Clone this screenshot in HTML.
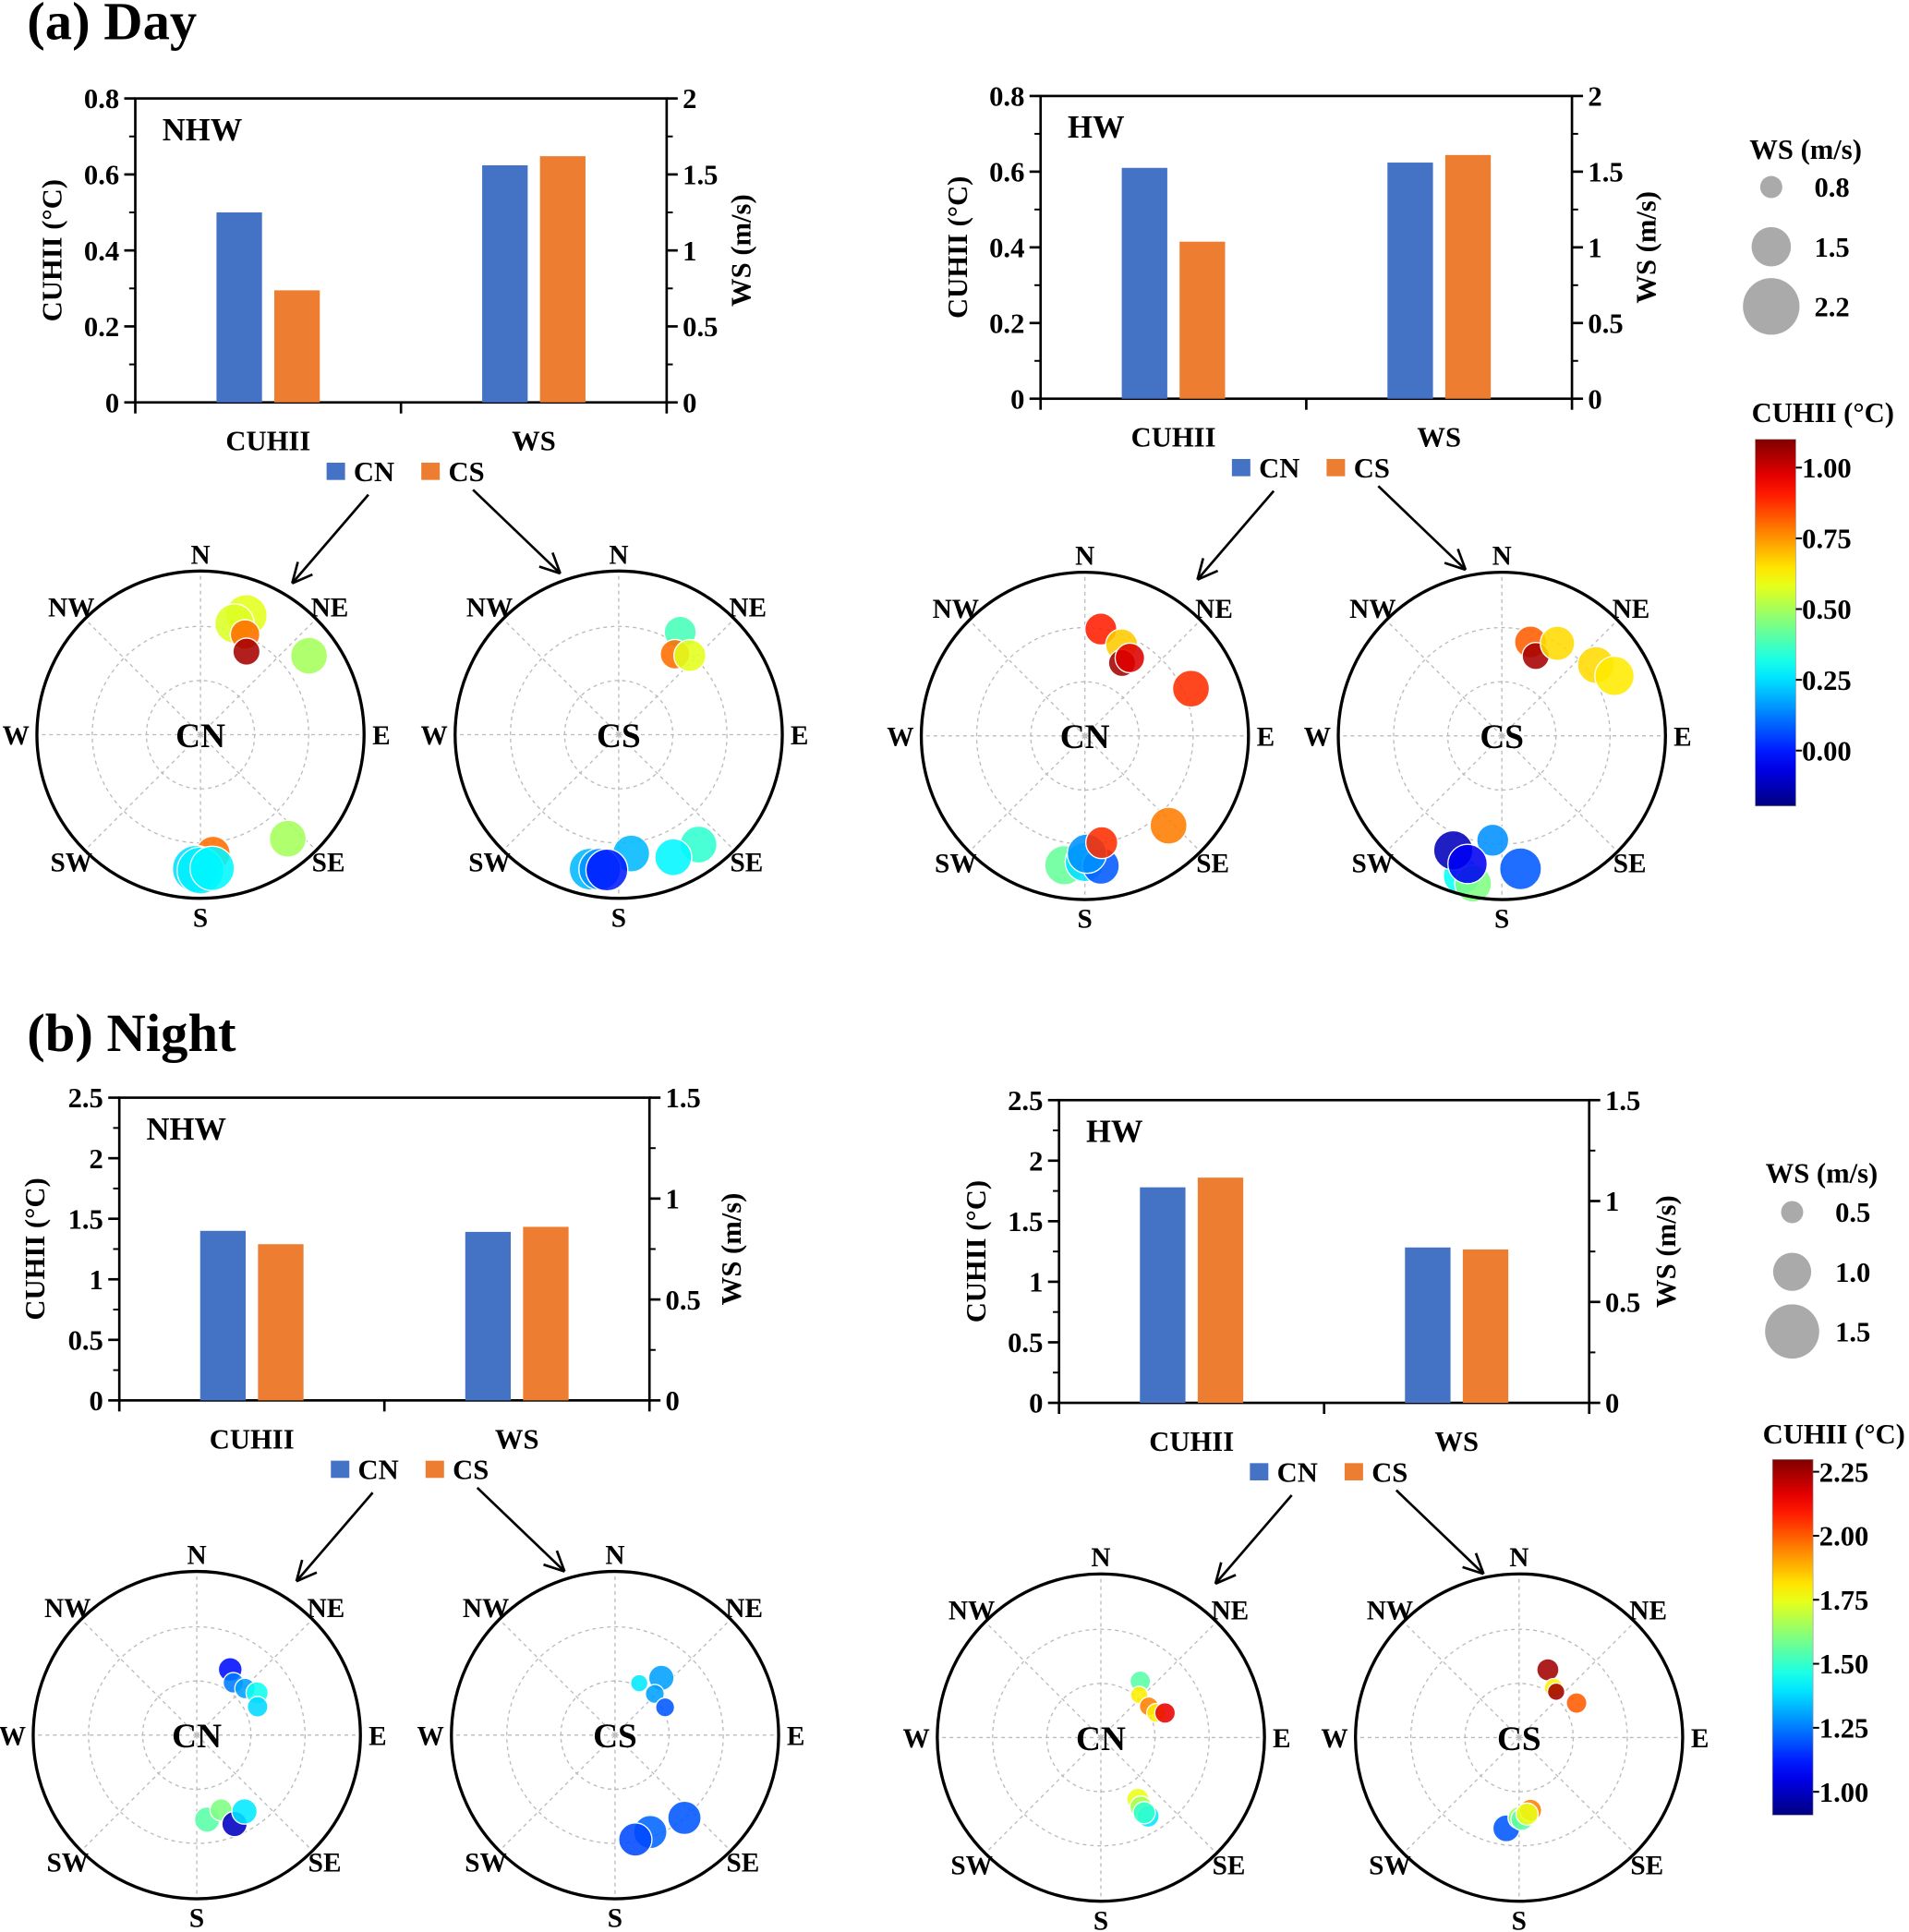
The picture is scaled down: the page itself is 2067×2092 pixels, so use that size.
<!DOCTYPE html>
<html><head><meta charset="utf-8"><style>
html,body{margin:0;padding:0;background:#fff;}
svg{display:block;font-family:"Liberation Serif",serif;font-weight:bold;}
</style></head><body>
<svg id="fig" width="2067" height="2092" viewBox="0 0 1552 1570" preserveAspectRatio="none" xmlns="http://www.w3.org/2000/svg"></svg>
<script>
// ---- bar chart data (CN, CS) ----
const barCategories = ["CUHII", "WS"];
const barSeries = ["CN", "CS"];
const dayNhwCuhii = [0.50, 0.295];
const dayNhwWs = [1.56, 1.62];
const dayHwCuhii = [0.61, 0.415];
const dayHwWs = [1.56, 1.61];
const nightNhwCuhii = [1.40, 1.29];
const nightNhwWs = [0.835, 0.86];
const nightHwCuhii = [1.78, 1.86];
const nightHwWs = [0.77, 0.76];
const dayLeftTicks = ["0", "0.2", "0.4", "0.6", "0.8"];
const dayRightTicks = ["0", "0.5", "1", "1.5", "2"];
const nightLeftTicks = ["0", "0.5", "1", "1.5", "2", "2.5"];
const nightRightTicks = ["0", "0.5", "1", "1.5"];
// ---- polar bubble data: direction (deg), radial fraction, wind speed, CUHII ----
const dNhwCnDir = [21, 17, 24, 29, 54, 140, 174, 182, 180, 175];
const dNhwCnRad = [0.78, 0.71, 0.67, 0.58, 0.82, 0.83, 0.73, 0.82, 0.83, 0.82];
const dNhwCnWs = [1.6, 1.5, 1.1, 1.0, 1.4, 1.4, 1.3, 1.8, 1.8, 1.7];
const dNhwCnT = [0.58, 0.57, 0.8, 1.05, 0.5, 0.5, 0.8, 0.25, 0.27, 0.28];
const dNhwCsDir = [31, 35, 42, 144, 156, 174, 192, 188, 185];
const dNhwCsRad = [0.73, 0.6, 0.65, 0.83, 0.82, 0.73, 0.84, 0.83, 0.83];
const dNhwCsWs = [1.2, 1.1, 1.2, 1.4, 1.4, 1.4, 1.6, 1.6, 1.6];
const dNhwCsT = [0.38, 0.8, 0.58, 0.35, 0.28, 0.2, 0.2, 0.15, 0.0];
const dHwCnDir = [8.5, 22, 27, 30, 66, 137, 189, 180, 173, 179, 171];
const dHwCnRad = [0.66, 0.6, 0.5, 0.55, 0.71, 0.75, 0.8, 0.77, 0.8, 0.72, 0.66];
const dHwCnWs = [1.2, 1.2, 1.0, 1.1, 1.4, 1.4, 1.5, 1.5, 1.4, 1.5, 1.2];
const dHwCnT = [0.9, 0.68, 1.05, 0.98, 0.88, 0.78, 0.42, 0.25, 0.08, 0.15, 0.88];
const dHwCsDir = [17, 23, 31, 53, 62, 185, 196, 191, 203, 195, 172];
const dHwCsRad = [0.6, 0.53, 0.66, 0.72, 0.78, 0.64, 0.89, 0.92, 0.76, 0.81, 0.82];
const dHwCsWs = [1.2, 1.0, 1.3, 1.4, 1.5, 1.2, 1.4, 1.4, 1.5, 1.5, 1.6];
const dHwCsT = [0.82, 1.05, 0.66, 0.66, 0.64, 0.15, 0.3, 0.45, -0.12, -0.05, 0.08];
const nNhwCnDir = [27, 35, 46, 55, 65, 173, 162, 157, 148];
const nNhwCnRad = [0.45, 0.39, 0.41, 0.45, 0.41, 0.52, 0.48, 0.59, 0.55];
const nNhwCnWs = [0.55, 0.45, 0.45, 0.5, 0.45, 0.6, 0.5, 0.6, 0.6];
const nNhwCnT = [1.1, 1.25, 1.3, 1.45, 1.38, 1.55, 1.6, 1.0, 1.4];
const nNhwCsDir = [25, 39, 44, 61, 140, 160, 169];
const nNhwCsRad = [0.35, 0.45, 0.35, 0.35, 0.66, 0.63, 0.65];
const nNhwCsWs = [0.35, 0.6, 0.4, 0.4, 0.85, 0.85, 0.85];
const nNhwCsT = [1.4, 1.3, 1.3, 1.2, 1.2, 1.22, 1.18];
const nHwCnDir = [35, 42, 57, 66, 69, 149, 150, 149, 150];
const nHwCnRad = [0.42, 0.35, 0.35, 0.37, 0.42, 0.44, 0.49, 0.56, 0.53];
const nHwCnWs = [0.45, 0.35, 0.4, 0.4, 0.45, 0.5, 0.5, 0.5, 0.5];
const nHwCnT = [1.55, 1.8, 1.95, 1.8, 2.15, 1.75, 1.65, 1.4, 1.5];
const nHwCsDir = [23, 35, 39, 59, 188, 180, 178, 171, 174];
const nHwCsRad = [0.45, 0.37, 0.36, 0.41, 0.56, 0.49, 0.5, 0.45, 0.47];
const nHwCsWs = [0.5, 0.4, 0.35, 0.45, 0.65, 0.5, 0.5, 0.5, 0.5];
const nHwCsT = [2.25, 1.8, 2.25, 2.0, 1.2, 1.65, 1.55, 1.95, 1.75];
const daySizeLegend = [0.8, 1.5, 2.2];
const nightSizeLegend = [0.5, 1.0, 1.5];
const dayCbTicks = [1.00, 0.75, 0.50, 0.25, 0.00];
const nightCbTicks = [2.25, 2.00, 1.75, 1.50, 1.25, 1.00];

const NS = "http://www.w3.org/2000/svg";
const svg = document.getElementById('fig');
function el(tag, attrs, parent, txt) {
  const e = document.createElementNS(NS, tag);
  for (const k in attrs) e.setAttribute(k, attrs[k]);
  if (txt !== undefined) e.textContent = txt;
  (parent || svg).appendChild(e);
  return e;
}
function jet(t) {
  const c = v => Math.max(0, Math.min(1, v));
  const r = c(1.5 - Math.abs(4 * t - 3)), g = c(1.5 - Math.abs(4 * t - 2)), b = c(1.5 - Math.abs(4 * t - 1));
  return `rgb(${Math.round(r * 255)},${Math.round(g * 255)},${Math.round(b * 255)})`;
}

function title(x, y, s, name) {
  const t = el('text', {x: x, y: y, 'font-size': 44}, svg, s);
  
  
}
title(22, 32, "(a) Day", "day-panel-title");
title(22, 854, "(b) Night", "night-panel-title");

function barChart(cfg) {
  const g = el('g', {});
  
  
  const {x0, y0, x1, y1} = cfg;
  const w = x1 - x0, h = y1 - y0;
  const yL = v => y1 - v / cfg.lMax * h;
  const yR = v => y1 - v / cfg.rMax * h;
  const frame = el('rect', {x: x0, y: y0, width: w, height: h, fill: 'none', stroke: '#000', 'stroke-width': 2}, g);
  
  
  cfg.lTicks.forEach((lab, i) => {
    const v = i * cfg.lStep, y = yL(v);
    el('line', {x1: x0 - 9, x2: x0, y1: y, y2: y, stroke: '#000', 'stroke-width': 2}, g);
    if (i < cfg.lTicks.length - 1) { const ym = yL(v + cfg.lStep / 2); el('line', {x1: x0 - 5, x2: x0, y1: ym, y2: ym, stroke: '#000', 'stroke-width': 1.5}, g); }
    const t = el('text', {x: x0 - 13, y: y + 8, 'font-size': 23, 'text-anchor': 'end'}, g, lab);
    
    
  });
  cfg.rTicks.forEach((lab, i) => {
    const v = i * cfg.rStep, y = yR(v);
    el('line', {x1: x1, x2: x1 + 9, y1: y, y2: y, stroke: '#000', 'stroke-width': 2}, g);
    if (i < cfg.rTicks.length - 1) { const ym = yR(v + cfg.rStep / 2); el('line', {x1: x1, x2: x1 + 5, y1: ym, y2: ym, stroke: '#000', 'stroke-width': 1.5}, g); }
    const t = el('text', {x: x1 + 13, y: y + 8, 'font-size': 23, 'text-anchor': 'start'}, g, lab);
    
    
  });
  [x0, x0 + w / 2, x1].forEach(x => el('line', {x1: x, x2: x, y1: y1, y2: y1 + 9, stroke: '#000', 'stroke-width': 2}, g));
  const colors = ['#4472C4', '#ED7D31'];
  const centers = [x0 + w * 0.25, x0 + w * 0.75];
  barCategories.forEach((cat, ci) => {
    const vals = ci === 0 ? cfg.cuhii : cfg.ws;
    const ys = ci === 0 ? yL : yR;
    vals.forEach((v, si) => {
      const bx = centers[ci] + (si === 0 ? -42 : 5);
      const r = el('rect', {x: bx, y: ys(v), width: 37, height: y1 - ys(v), fill: colors[si]}, g);
      
      
    });
    const t = el('text', {x: centers[ci], y: y1 + 39, 'font-size': 23, 'text-anchor': 'middle'}, g, cat);
    
    
  });
  const pl = el('text', {x: x0 + 22, y: y0 + 34, 'font-size': 26}, g, cfg.label);
  
  
  const ly = y0 + h / 2;
  const la = el('text', {x: 0, y: 0, 'font-size': 23, 'text-anchor': 'middle', transform: `translate(${cfg.lLabX},${ly}) rotate(-90)`}, g, "CUHII (°C)");
  
  
  const ra = el('text', {x: 0, y: 0, 'font-size': 23, 'text-anchor': 'middle', transform: `translate(${cfg.rLabX},${ly}) rotate(-90)`}, g, "WS (m/s)");
  
  
  const lg = el('g', {}, g);
  
  
  const lx = cfg.lx !== undefined ? cfg.lx : x0 + w * 0.36, lyy = y1 + 49;
  barSeries.forEach((s, i) => {
    const xx = lx + i * 77;
    el('rect', {x: xx, y: lyy, width: 15, height: 14, fill: colors[i]}, lg);
    const t = el('text', {x: xx + 22, y: lyy + 15, 'font-size': 23}, lg, s);
    
    
  });
  const arr = (ax, ay, bx, by) => {
    el('line', {x1: ax, y1: ay, x2: bx, y2: by, stroke: '#000', 'stroke-width': 2}, g);
    const a = Math.atan2(by - ay, bx - ax), L = 18;
    [0.45, -0.45].forEach(d => el('line', {x1: bx, y1: by, x2: bx - L * Math.cos(a + d), y2: by - L * Math.sin(a + d), stroke: '#000', 'stroke-width': 2}, g));
  };
  arr(lx + 34, lyy + 26, lx - 28, lyy + 98);
  arr(lx + 119, lyy + 22, lx + 190, lyy + 90);
}

barChart({name: 'bar-chart-day-nhw', x0: 110, y0: 80, x1: 542, y1: 327, lMax: 0.8, lStep: 0.2, rMax: 2, rStep: 0.5, lTicks: dayLeftTicks, rTicks: dayRightTicks, cuhii: dayNhwCuhii, ws: dayNhwWs, label: 'NHW', lLabX: 50, rLabX: 610});
barChart({name: 'bar-chart-day-hw', x0: 846, y0: 78, x1: 1278, y1: 324, lMax: 0.8, lStep: 0.2, rMax: 2, rStep: 0.5, lTicks: dayLeftTicks, rTicks: dayRightTicks, cuhii: dayHwCuhii, ws: dayHwWs, label: 'HW', lLabX: 786, rLabX: 1346});
barChart({name: 'bar-chart-night-nhw', x0: 97, y0: 892, x1: 528, y1: 1138, lMax: 2.5, lStep: 0.5, rMax: 1.5, rStep: 0.5, lTicks: nightLeftTicks, rTicks: nightRightTicks, cuhii: nightNhwCuhii, ws: nightNhwWs, label: 'NHW', lLabX: 36, rLabX: 602, lx: 269});
barChart({name: 'bar-chart-night-hw', x0: 861, y0: 894, x1: 1292, y1: 1140, lMax: 2.5, lStep: 0.5, rMax: 1.5, rStep: 0.5, lTicks: nightLeftTicks, rTicks: nightRightTicks, cuhii: nightHwCuhii, ws: nightHwWs, label: 'HW', lLabX: 801, rLabX: 1362});

const daySize = ws => 9 + 10 * (ws - 0.8);
const nightSize = ws => 9 + 13 * (ws - 0.5);
const dayNorm = v => (v - (-0.196)) / (1.10 - (-0.196));
const nightNorm = v => (v - 0.909) / (2.298 - 0.909);

function polar(cfg) {
  const g = el('g', {});
  
  
  const cx = cfg.cx, cy = cfg.cy, R = 133;
  [44, 88].forEach(r => el('circle', {cx, cy, r, fill: 'none', stroke: '#bbb', 'stroke-width': 1, 'stroke-dasharray': '3,3'}, g));
  for (let k = 0; k < 8; k++) {
    const a = k * Math.PI / 4;
    el('line', {x1: cx, y1: cy, x2: cx + R * Math.sin(a), y2: cy - R * Math.cos(a), stroke: '#bbb', 'stroke-width': 1, 'stroke-dasharray': '3,3'}, g);
  }
  cfg.dir.forEach((d, i) => {
    const a = d * Math.PI / 180, r = cfg.rad[i] * R;
    const c = el('circle', {cx: cx + r * Math.sin(a), cy: cy - r * Math.cos(a), r: cfg.size(cfg.ws[i]), fill: jet(cfg.norm(cfg.t[i])), 'fill-opacity': 0.88, stroke: '#fff', 'stroke-width': 1}, g);
    
    
  });
  const ring = el('circle', {cx, cy, r: R, fill: 'none', stroke: '#000', 'stroke-width': 2.5}, g);
  
  
  const labs = [['N', 0, -147], ['S', 0, 148], ['W', -150, 0], ['E', 147, 0], ['NW', -105, -104], ['NE', 105, -104], ['SW', -105, 103], ['SE', 104, 103]];
  labs.forEach(([s, dx, dy]) => {
    const t = el('text', {x: cx + dx, y: cy + dy + 8, 'font-size': 22, 'text-anchor': 'middle'}, g, s);
    
    
  });
  const ct = el('text', {x: cx, y: cy + 10, 'font-size': 28, 'text-anchor': 'middle'}, g, cfg.center);
  
  
}
polar({name: 'polar-day-nhw-cn', cx: 163, cy: 597, center: 'CN', dir: dNhwCnDir, rad: dNhwCnRad, ws: dNhwCnWs, t: dNhwCnT, size: daySize, norm: dayNorm});
polar({name: 'polar-day-nhw-cs', cx: 503, cy: 597, center: 'CS', dir: dNhwCsDir, rad: dNhwCsRad, ws: dNhwCsWs, t: dNhwCsT, size: daySize, norm: dayNorm});
polar({name: 'polar-day-hw-cn', cx: 882, cy: 598, center: 'CN', dir: dHwCnDir, rad: dHwCnRad, ws: dHwCnWs, t: dHwCnT, size: daySize, norm: dayNorm});
polar({name: 'polar-day-hw-cs', cx: 1221, cy: 598, center: 'CS', dir: dHwCsDir, rad: dHwCsRad, ws: dHwCsWs, t: dHwCsT, size: daySize, norm: dayNorm});
polar({name: 'polar-night-nhw-cn', cx: 160, cy: 1410, center: 'CN', dir: nNhwCnDir, rad: nNhwCnRad, ws: nNhwCnWs, t: nNhwCnT, size: nightSize, norm: nightNorm});
polar({name: 'polar-night-nhw-cs', cx: 500, cy: 1410, center: 'CS', dir: nNhwCsDir, rad: nNhwCsRad, ws: nNhwCsWs, t: nNhwCsT, size: nightSize, norm: nightNorm});
polar({name: 'polar-night-hw-cn', cx: 895, cy: 1412, center: 'CN', dir: nHwCnDir, rad: nHwCnRad, ws: nHwCnWs, t: nHwCnT, size: nightSize, norm: nightNorm});
polar({name: 'polar-night-hw-cs', cx: 1235, cy: 1412, center: 'CS', dir: nHwCsDir, rad: nHwCsRad, ws: nHwCsWs, t: nHwCsT, size: nightSize, norm: nightNorm});

function sizeLegend(cfg) {
  const g = el('g', {});
  
  
  const t = el('text', {x: cfg.tx, y: cfg.ty, 'font-size': 23, 'text-anchor': 'middle'}, g, "WS (m/s)");
  
  
  cfg.vals.forEach((v, i) => {
    const y = cfg.y0 + i * 48.5;
    el('circle', {cx: cfg.cx, cy: y, r: cfg.size(v), fill: '#aaa'}, g);
    const l = el('text', {x: cfg.lx, y: y + 8, 'font-size': 23}, g, v.toFixed(1));
    
    
  });
}
sizeLegend({name: 'size-legend-day', tx: 1468, ty: 129, cx: 1440, y0: 152, lx: 1475, vals: daySizeLegend, size: daySize});
sizeLegend({name: 'size-legend-night', tx: 1481, ty: 961, cx: 1457, y0: 985, lx: 1492, vals: nightSizeLegend, size: nightSize});

function colorbar(cfg) {
  const g = el('g', {});
  
  
  const defs = el('defs', {}, g);
  const lg = el('linearGradient', {id: cfg.name + '-grad', x1: 0, y1: 1, x2: 0, y2: 0}, defs);
  for (let i = 0; i <= 20; i++) el('stop', {offset: i / 20, 'stop-color': jet(i / 20)}, lg);
  const t = el('text', {x: cfg.tx, y: cfg.ty, 'font-size': 23, 'text-anchor': 'middle'}, g, "CUHII (°C)");
  
  
  el('rect', {x: cfg.x, y: cfg.y0, width: 33, height: cfg.y1 - cfg.y0, fill: `url(#${cfg.name}-grad)`, stroke: '#999', 'stroke-width': 0.5}, g);
  cfg.ticks.forEach(v => {
    const y = cfg.y1 - cfg.norm(v) * (cfg.y1 - cfg.y0);
    el('line', {x1: cfg.x + 33, x2: cfg.x + 38, y1: y, y2: y, stroke: '#000', 'stroke-width': 1.5}, g);
    const l = el('text', {x: cfg.x + 38, y: y + 8, 'font-size': 23}, g, v.toFixed(2));
    
    
  });
}
colorbar({name: 'colorbar-day', tx: 1482, ty: 343, x: 1427, y0: 357, y1: 655, ticks: dayCbTicks, norm: dayNorm});
colorbar({name: 'colorbar-night', tx: 1491, ty: 1173, x: 1441, y0: 1186, y1: 1475, ticks: nightCbTicks, norm: nightNorm});
</script>
</body></html>
